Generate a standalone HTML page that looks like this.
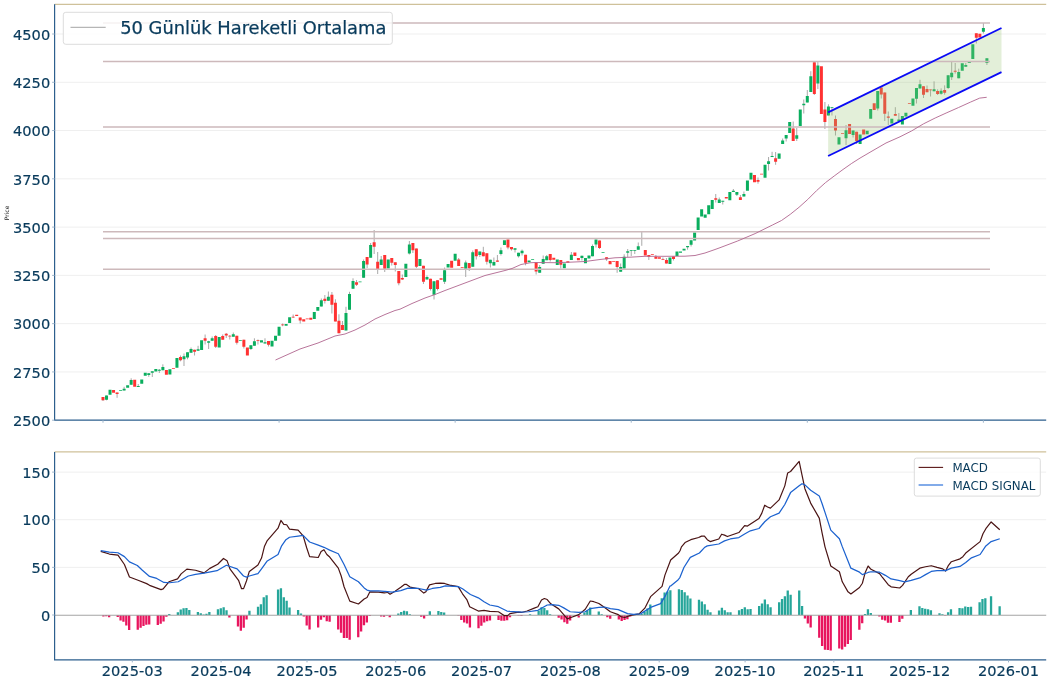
<!DOCTYPE html>
<html lang="tr"><head><meta charset="utf-8"><title>Chart</title><style>html,body{margin:0;padding:0;background:#fff}svg{display:block}</style></head><body>
<svg width="1050" height="683" viewBox="0 0 1050 683" font-family="'DejaVu Sans', 'Liberation Sans', sans-serif">
<rect width="1050" height="683" fill="#fff"/>
<g stroke="#efefef" stroke-width="1">
<line x1="54.6" x2="1046.2" y1="371.93" y2="371.93"/>
<line x1="54.6" x2="1046.2" y1="323.65" y2="323.65"/>
<line x1="54.6" x2="1046.2" y1="275.38" y2="275.38"/>
<line x1="54.6" x2="1046.2" y1="227.1" y2="227.1"/>
<line x1="54.6" x2="1046.2" y1="178.82" y2="178.82"/>
<line x1="54.6" x2="1046.2" y1="130.55" y2="130.55"/>
<line x1="54.6" x2="1046.2" y1="82.28" y2="82.28"/>
<line x1="54.6" x2="1046.2" y1="34" y2="34"/>
<line x1="54.6" x2="1046.2" y1="567.37" y2="567.37"/>
<line x1="54.6" x2="1046.2" y1="519.73" y2="519.73"/>
<line x1="54.6" x2="1046.2" y1="472.1" y2="472.1"/>
</g>
<path d="M103 397V401M106.52 395.5V400.3M117.09 392.4V397.8M124.13 386.8V390.5M131.17 378.3V384.7M138.22 384V387M148.78 373.3V376.8M152.3 371.3V377M159.34 369V373M162.87 364.3V370.3M180.47 355.5V361.3M183.99 353.5V366M187.52 352.3V359.3M191.04 347.5V352.8M194.56 349.7V355.5M198.08 345.8V350.8M205.12 334.5V344.5M208.64 340.8V349M212.17 336.5V340.8M215.69 335V348M222.73 334.5V339.7M226.25 333V338M229.77 335V339.5M233.3 332.5V336.7M236.82 335.8V344.5M243.86 339.7V348.5M250.9 345.2V350M254.42 338.3V345.8M257.95 339.5V344.5M264.99 338.3V343.5M268.51 341V346.5M282.6 323.5V326.2M293.16 314.5V317.8M300.2 317.5V323.5M321.33 298.5V306.5M324.85 295V303.5M328.38 291.5V300.8M331.9 292V313.5M335.42 299.3V321.5M338.94 314.3V333.3M342.46 321V330M345.98 306.8V330.5M349.5 291.8V309.7M353.03 278.3V288.7M356.55 280V286M363.59 259.5V277.8M367.11 257V268M370.63 243V257.7M374.16 230V254M377.68 252V274M381.2 256V265M384.72 255V272M391.76 258V265.5M395.28 262.3V271.5M398.81 271V285.3M402.33 274.5V280M409.37 241V254.5M412.89 243V253M416.41 248.5V268M423.46 265.8V284M426.98 275.5V279.5M430.5 278.7V290.5M434.02 281.2V299.5M437.54 280.2V290.5M444.59 267.5V284M458.67 258V266M465.71 260.5V277M469.24 263V271M472.76 250.5V266.7M476.28 249.3V259.5M479.8 251.5V257M483.32 246.8V256.3M486.84 253.3V264.5M490.37 259.7V267.5M493.89 257.5V265.5M497.41 255V261.8M500.93 247.5V255.5M507.97 239.5V249.3M511.49 247V250.5M515.02 248.3V252.5M518.54 252.8V257.5M522.06 249.5V255.5M525.58 254.8V265.3M536.14 262.5V274.5M539.67 265V272.8M543.19 255.5V263.8M546.71 255V260.2M550.23 254V261.5M560.8 260V268.5M571.36 252V260M581.92 255.7V260.5M592.49 244.5V256.3M596.01 239.5V247.5M599.53 240.5V249M606.57 257.2V260.8M617.14 261V272.8M620.66 263.5V271.7M624.18 254.3V268.5M627.7 249V257M631.23 250V256M634.75 250V254M638.27 242.5V249.8M641.79 231.3V245.8M648.83 255V260M655.88 255V258.7M662.92 257.5V259.8M666.44 258V263.5M673.48 256.5V260.5M687.57 246V249.7M691.09 240.3V246.5M715.74 194V202.5M719.26 197.5V203M722.78 200.8V204.5M733.35 189V192M736.87 192V196M740.39 195V200M743.91 191.5V196.5M758 177.5V183.7M768.56 157V170.5M772.09 151.8V157M775.61 152V164.8M782.65 138.5V144M786.17 135V141.5M793.21 121.5V141M796.74 128V141M803.78 99.5V113.5M807.3 90V102.5M810.82 71.2V92M814.34 62.2V95M817.86 62V89M824.91 102V129M828.43 104.3V115.5M831.95 107.2V115.5M835.47 115.5V135.5M846.04 125V145M853.08 130.5V137.5M856.6 131.8V144M877.73 91V110.5M881.25 87.5V98.5M884.77 92.5V121M888.29 111.5V125M895.34 107.2V115.8M898.86 113V121M916.47 88V103.5M919.99 79.8V88.5M923.51 86.2V98M927.03 85.5V92.2M930.55 89.5V96.5M934.07 81.33V91.33M937.6 89.33V95M941.12 88.33V94.67M944.64 85.33V94.67M948.16 75.2V89M951.68 61.67V80M955.2 63V73.67M958.72 68.67V78.33M965.77 63V66.67M976.33 33.3V43.5M983.38 23V33.5M986.9 58.3V65" stroke="#999999" stroke-width="0.85" fill="none"/>
<path d="M105.02 395.5h3v4.3h-3zM108.54 389.8h3v5h-3zM119.11 390.3h3v0.7h-3zM122.63 388.7h3v1.8h-3zM126.15 385.2h3v2.6h-3zM129.67 380h3v4.7h-3zM136.72 386h3v1h-3zM140.24 379.5h3v4.3h-3zM143.76 372.8h3v3h-3zM147.28 373.3h3v1.7h-3zM150.8 371.3h3v1.5h-3zM154.32 369h3v2.5h-3zM157.84 369.7h3v1h-3zM161.37 367h3v3.3h-3zM168.41 369.2h3v5.3h-3zM175.45 358h3v9.8h-3zM182.49 356.3h3v2.9h-3zM186.02 352.3h3v5.2h-3zM189.54 349h3v3.8h-3zM196.58 349.3h3v1.5h-3zM200.1 340.3h3v9.7h-3zM207.14 341.3h3v1.5h-3zM210.67 338.3h3v2.5h-3zM217.71 337h3v10.5h-3zM231.8 334.3h3v2.4h-3zM238.84 340h3v0.8h-3zM249.4 345.2h3v3.8h-3zM252.92 341.3h3v4.5h-3zM259.97 340.3h3v2.2h-3zM263.49 342.3h3v1.2h-3zM270.53 340.8h3v5.7h-3zM274.05 335.7h3v5.1h-3zM277.58 326.7h3v9.1h-3zM284.62 324h3v1.8h-3zM288.14 317.2h3v5.8h-3zM312.79 312h3v7h-3zM316.31 307h3v3.8h-3zM319.83 300.3h3v6.2h-3zM326.88 296.8h3v4h-3zM344.48 313h3v17.5h-3zM348 294h3v15.7h-3zM351.53 281h3v7.7h-3zM358.57 281.5h3v0.7h-3zM362.09 261h3v16.8h-3zM369.13 245h3v12.7h-3zM379.7 259.5h3v5.5h-3zM386.74 259.5h3v9h-3zM404.35 263.7h3v13.3h-3zM407.87 244.5h3v9h-3zM418.44 259h3v7h-3zM425.48 277h3v2.5h-3zM432.52 281.2h3v13.5h-3zM443.09 270.2h3v11.6h-3zM446.61 264h3v3.5h-3zM453.65 253.7h3v7h-3zM464.21 262.5h3v6.2h-3zM471.26 252.2h3v14.5h-3zM478.3 251.5h3v3.5h-3zM488.87 259.7h3v3.5h-3zM492.39 262h3v3.5h-3zM499.43 250.2h3v3.8h-3zM502.95 240.2h3v4.8h-3zM513.52 248.3h3v1.4h-3zM517.04 252.8h3v3.5h-3zM520.56 250.8h3v2.5h-3zM527.6 260.5h3v1.7h-3zM531.12 259.3h3v0.7h-3zM538.17 267h3v5.8h-3zM541.69 259h3v4.8h-3zM545.21 256.3h3v3.9h-3zM555.77 259.5h3v5.5h-3zM562.82 263.5h3v4.7h-3zM569.86 254.8h3v5.2h-3zM580.42 255.7h3v2.3h-3zM583.95 258h3v5.2h-3zM587.47 255.5h3v3h-3zM590.99 246h3v10.3h-3zM594.51 239.5h3v5h-3zM601.55 252h3v0.8h-3zM619.16 267h3v4.7h-3zM622.68 256.8h3v11.7h-3zM626.2 251.2h3v1.6h-3zM629.73 250h3v0.7h-3zM633.25 250h3v0.7h-3zM636.77 246.2h3v3.6h-3zM668.46 257.5h3v6.5h-3zM675.5 251.5h3v4.5h-3zM679.03 251.5h3v1.2h-3zM682.55 248.7h3v1.8h-3zM686.07 246h3v1.2h-3zM689.59 240.3h3v4.5h-3zM693.11 232.5h3v8h-3zM696.63 217.5h3v12.5h-3zM700.15 209.2h3v7.3h-3zM703.68 214.5h3v3.3h-3zM707.2 205.2h3v9.1h-3zM710.72 200h3v9h-3zM717.76 199.5h3v3.5h-3zM721.28 200.8h3v1h-3zM728.33 192h3v8.3h-3zM731.85 190.8h3v1.2h-3zM735.37 192h3v2.7h-3zM742.41 194h3v2.5h-3zM745.93 180.5h3v10.2h-3zM749.46 172.8h3v6.7h-3zM763.54 164.8h3v13h-3zM767.06 161.3h3v2.7h-3zM770.59 156h3v1h-3zM777.63 153.5h3v5.2h-3zM781.15 140.5h3v3.5h-3zM784.67 135h3v3.5h-3zM788.19 122h3v11h-3zM795.24 135.3h3v3.4h-3zM798.76 109.5h3v16.5h-3zM802.28 103.8h3v1.5h-3zM805.8 96h3v6.5h-3zM809.32 76.2h3v15.8h-3zM816.36 65.5h3v18h-3zM826.93 106.5h3v9h-3zM830.45 107.2h3v0.8h-3zM837.49 137.2h3v7.3h-3zM844.54 130.2h3v8h-3zM851.58 130.5h3v4.5h-3zM858.62 134.5h3v9.5h-3zM865.67 130.8h3v3.4h-3zM869.19 109h3v9.8h-3zM876.23 91h3v17.5h-3zM890.32 118.7h3v4.8h-3zM897.36 119.5h3v1.5h-3zM900.88 116h3v8.5h-3zM904.4 112.8h3v3.7h-3zM911.45 98.5h3v7.3h-3zM914.97 88h3v10.8h-3zM918.49 84.2h3v4.3h-3zM932.57 89.33h3v2h-3zM939.62 90.67h3v3h-3zM946.66 75.2h3v12.8h-3zM950.18 72.67h3v4.67h-3zM957.22 72h3v6.33h-3zM960.75 63.33h3v7.33h-3zM964.27 65h3v1.67h-3zM967.79 62h3v1h-3zM971.31 44.3h3v14.7h-3zM981.88 28h3v3.8h-3zM985.4 58.3h3v4.7h-3z" fill="#0aae5e"/>
<path d="M101.5 397h3v3.3h-3zM112.06 390h3v2.7h-3zM115.59 392.4h3v1.6h-3zM133.19 379.8h3v7h-3zM164.89 370h3v4.7h-3zM171.93 368.3h3v0.7h-3zM178.97 357h3v3.3h-3zM193.06 349.7h3v2.1h-3zM203.62 338.3h3v2.5h-3zM214.19 336h3v10.8h-3zM221.23 336h3v3.7h-3zM224.75 333.7h3v1.8h-3zM228.27 335.7h3v0.7h-3zM235.32 335.8h3v6.9h-3zM242.36 339.7h3v7.1h-3zM245.88 347.5h3v8h-3zM256.45 340h3v0.8h-3zM267.01 341h3v3.8h-3zM281.1 324.5h3v0.7h-3zM291.66 316.8h3v0.7h-3zM295.18 314.8h3v1.2h-3zM298.7 317.5h3v3h-3zM302.23 319.3h3v2.2h-3zM305.75 318.5h3v0.8h-3zM309.27 317.7h3v2h-3zM323.35 298.8h3v2.2h-3zM330.4 294.8h3v10h-3zM333.92 302.8h3v18.7h-3zM337.44 320.8h3v12.5h-3zM340.96 325h3v5h-3zM355.05 282.2h3v2.5h-3zM365.61 257h3v7.5h-3zM372.66 242.2h3v4.5h-3zM376.18 261.8h3v7.2h-3zM383.22 255h3v13.7h-3zM390.26 258h3v4.7h-3zM393.78 262.3h3v2.7h-3zM397.31 271h3v12.3h-3zM400.83 278h3v1.5h-3zM411.39 243h3v7.3h-3zM414.91 248.5h3v18.3h-3zM421.96 265.8h3v15.9h-3zM429 278.7h3v10.3h-3zM436.04 280.2h3v8.8h-3zM439.56 278.3h3v1.5h-3zM450.13 260.7h3v7h-3zM457.17 259.5h3v6.5h-3zM460.69 267h3v0.7h-3zM467.74 263h3v5.2h-3zM474.78 249.3h3v7h-3zM481.82 252.2h3v4.1h-3zM485.34 253.3h3v8.4h-3zM495.91 260.5h3v1.3h-3zM506.47 239.5h3v8h-3zM509.99 247h3v2.3h-3zM524.08 254.8h3v7.9h-3zM534.64 262.5h3v9h-3zM548.73 254h3v6h-3zM552.25 257.8h3v1.9h-3zM559.3 260h3v4.7h-3zM566.34 261.2h3v1.6h-3zM573.38 252.5h3v3.5h-3zM576.9 258h3v2.2h-3zM598.03 240.5h3v7.5h-3zM605.07 257.2h3v2.1h-3zM608.6 261h3v3.2h-3zM612.12 261h3v0.7h-3zM615.64 261h3v6h-3zM643.81 250h3v5.5h-3zM647.33 255h3v1.7h-3zM650.85 254.3h3v0.7h-3zM654.38 256.8h3v1.9h-3zM657.9 257.2h3v1.5h-3zM661.42 259.2h3v0.7h-3zM664.94 260h3v3.5h-3zM671.98 256.5h3v2.5h-3zM714.24 198.3h3v1.5h-3zM724.81 197h3v1.5h-3zM738.89 197.2h3v2.8h-3zM752.98 175h3v7.3h-3zM756.5 180h3v1.7h-3zM760.02 173.8h3v0.7h-3zM774.11 158.3h3v3.4h-3zM791.71 128.5h3v12.5h-3zM812.84 62.2h3v31.8h-3zM819.89 66.2h3v47.8h-3zM823.41 109.5h3v12.5h-3zM833.97 119h3v11.5h-3zM841.01 133.3h3v0.7h-3zM848.06 124h3v10h-3zM855.1 131.8h3v9.2h-3zM862.14 129.5h3v5h-3zM872.71 103.3h3v6.7h-3zM879.75 87.5h3v7h-3zM883.27 92.5h3v21.3h-3zM886.79 116.5h3v1.2h-3zM893.84 114h3v1.8h-3zM907.92 103.3h3v0.7h-3zM922.01 86.2h3v8.6h-3zM925.53 89h3v3.2h-3zM929.05 89.5h3v0.7h-3zM936.1 91h3v3h-3zM943.14 90h3v2.67h-3zM953.7 70.87h3v0.8h-3zM974.83 33.3h3v4.5h-3zM978.35 33.7h3v3.8h-3z" fill="#ff3232"/>
<polygon points="828.1,112.4 1001.5,28 1001.5,72.1 828.1,156" fill="rgba(150,195,115,0.27)"/>
<g stroke="#cdb9bb" stroke-width="1.5">
<line x1="103" x2="990" y1="23.0" y2="23.0"/>
<line x1="103" x2="990" y1="61.4" y2="61.4"/>
<line x1="103" x2="990" y1="127.0" y2="127.0"/>
<line x1="103" x2="990" y1="231.7" y2="231.7"/>
<line x1="103" x2="990" y1="238.6" y2="238.6"/>
<line x1="103" x2="990" y1="269.3" y2="269.3"/>
</g>
<g stroke="#0a0af5" stroke-width="1.8" stroke-linecap="butt">
<line x1="828.1" y1="112.4" x2="1001.5" y2="28"/>
<line x1="828.1" y1="156" x2="1001.5" y2="72.1"/>
</g>
<polyline points="275.5,360 300,349 318,343 335,336 345,334 355,330 365,325 375,319 385,314.5 395,310.5 400,309.2 412,303.5 425,298 435,294.5 445,290.5 465,283 485,275.5 505,270.5 512,268.5 521,264.5 530,262.8 535,262.5 555,262.7 570,262.2 585,261.5 600,259.5 615,257.8 630,257.2 645,256.3 665,256.3 685,256.2 695,255.5 705,253 715,249.5 720,247.7 737.6,241 755.1,233.6 772.7,224.9 781.5,220.5 790.3,214.3 799,207.3 807.8,199.4 816.6,190.6 825.4,182.7 834.2,176 843,169.5 851.7,163.4 860,158.1 873,150.5 886,143 900,136.8 911.7,130.9 923.4,123.9 935.2,118 946.9,112.7 958.6,107.5 970.3,102.2 979.7,98.1 986.7,97.3" fill="none" stroke="#b0658f" stroke-width="0.9" stroke-linejoin="round"/>
<path d="M168.11 614h2.3V615h-2.3zM176.7 612.2h2.3V615h-2.3zM179.56 609.5h2.3V615h-2.3zM182.43 608.3h2.3V615h-2.3zM185.29 608h2.3V615h-2.3zM188.15 610h2.3V615h-2.3zM196.74 612h2.3V615h-2.3zM199.61 613.2h2.3V615h-2.3zM202.47 614.5h2.3V615h-2.3zM205.33 613.8h2.3V615h-2.3zM208.2 612h2.3V615h-2.3zM216.79 609.2h2.3V615h-2.3zM219.65 608.3h2.3V615h-2.3zM222.51 607.2h2.3V615h-2.3zM225.38 610.2h2.3V615h-2.3zM248.28 610.8h2.3V615h-2.3zM256.87 606.8h2.3V615h-2.3zM259.74 604.2h2.3V615h-2.3zM262.6 597.2h2.3V615h-2.3zM265.46 595.2h2.3V615h-2.3zM276.92 589.5h2.3V615h-2.3zM279.78 588.2h2.3V615h-2.3zM282.64 597.2h2.3V615h-2.3zM285.51 600.8h2.3V615h-2.3zM288.37 607.5h2.3V615h-2.3zM296.96 610h2.3V615h-2.3zM299.82 613.5h2.3V615h-2.3zM397.18 613.5h2.3V615h-2.3zM400.04 612h2.3V615h-2.3zM402.91 610.8h2.3V615h-2.3zM405.77 611.2h2.3V615h-2.3zM408.63 614.3h2.3V615h-2.3zM428.68 611.2h2.3V615h-2.3zM437.27 611h2.3V615h-2.3zM440.13 612h2.3V615h-2.3zM442.99 612.5h2.3V615h-2.3zM528.9 614.3h2.3V615h-2.3zM537.49 610.5h2.3V615h-2.3zM540.35 607.2h2.3V615h-2.3zM543.21 608h2.3V615h-2.3zM546.08 610.2h2.3V615h-2.3zM548.94 614.2h2.3V615h-2.3zM583.3 612.5h2.3V615h-2.3zM586.16 610.5h2.3V615h-2.3zM589.03 607.5h2.3V615h-2.3zM597.62 611.5h2.3V615h-2.3zM600.48 614.2h2.3V615h-2.3zM637.71 614.6h2.3V615h-2.3zM640.57 614h2.3V615h-2.3zM643.43 611.8h2.3V615h-2.3zM646.3 608.5h2.3V615h-2.3zM649.16 604.5h2.3V615h-2.3zM660.61 598.3h2.3V615h-2.3zM663.48 592.5h2.3V615h-2.3zM666.34 591.5h2.3V615h-2.3zM669.2 590.3h2.3V615h-2.3zM677.79 589.2h2.3V615h-2.3zM680.66 590h2.3V615h-2.3zM683.52 592.2h2.3V615h-2.3zM686.38 595.5h2.3V615h-2.3zM689.25 598.5h2.3V615h-2.3zM697.84 599.7h2.3V615h-2.3zM700.7 601.5h2.3V615h-2.3zM703.56 604.3h2.3V615h-2.3zM706.43 609.7h2.3V615h-2.3zM709.29 612.2h2.3V615h-2.3zM717.88 610.5h2.3V615h-2.3zM720.74 607.8h2.3V615h-2.3zM723.61 610.3h2.3V615h-2.3zM726.47 612.3h2.3V615h-2.3zM729.33 612.2h2.3V615h-2.3zM737.92 610.3h2.3V615h-2.3zM740.79 609h2.3V615h-2.3zM743.65 607.3h2.3V615h-2.3zM746.51 609.3h2.3V615h-2.3zM749.38 609h2.3V615h-2.3zM757.97 606h2.3V615h-2.3zM760.83 603.5h2.3V615h-2.3zM763.7 599.5h2.3V615h-2.3zM766.56 604.3h2.3V615h-2.3zM769.42 607.3h2.3V615h-2.3zM778.01 602.2h2.3V615h-2.3zM780.88 599h2.3V615h-2.3zM783.74 596.3h2.3V615h-2.3zM786.6 590.5h2.3V615h-2.3zM789.47 594.7h2.3V615h-2.3zM798.06 590.5h2.3V615h-2.3zM800.92 606h2.3V615h-2.3zM863.91 614h2.3V615h-2.3zM866.78 609.3h2.3V615h-2.3zM869.64 613h2.3V615h-2.3zM909.73 610h2.3V615h-2.3zM918.32 606.2h2.3V615h-2.3zM921.18 608h2.3V615h-2.3zM924.05 608.7h2.3V615h-2.3zM926.91 609.2h2.3V615h-2.3zM929.77 610.2h2.3V615h-2.3zM938.36 613.2h2.3V615h-2.3zM941.23 614.3h2.3V615h-2.3zM946.95 612.2h2.3V615h-2.3zM949.82 609.3h2.3V615h-2.3zM958.41 608h2.3V615h-2.3zM961.27 608.2h2.3V615h-2.3zM964.13 606.5h2.3V615h-2.3zM967 607h2.3V615h-2.3zM969.86 606.8h2.3V615h-2.3zM978.45 602.3h2.3V615h-2.3zM981.31 599h2.3V615h-2.3zM984.18 598.3h2.3V615h-2.3zM989.9 596.2h2.3V615h-2.3zM998.49 606.2h2.3V615h-2.3z" fill="#26a69a"/>
<path d="M102.25 615h2.3V616.5h-2.3zM105.11 615h2.3V616.2h-2.3zM107.98 615h2.3V617.2h-2.3zM116.57 615h2.3V617h-2.3zM119.43 615h2.3V620.5h-2.3zM122.29 615h2.3V621.8h-2.3zM125.16 615h2.3V625.5h-2.3zM128.02 615h2.3V630h-2.3zM136.61 615h2.3V629.7h-2.3zM139.47 615h2.3V627.8h-2.3zM142.34 615h2.3V626h-2.3zM145.2 615h2.3V624.8h-2.3zM148.06 615h2.3V624.5h-2.3zM156.65 615h2.3V625h-2.3zM159.52 615h2.3V623.7h-2.3zM162.38 615h2.3V621.5h-2.3zM165.24 615h2.3V616.8h-2.3zM228.24 615h2.3V617.5h-2.3zM236.83 615h2.3V626.5h-2.3zM239.69 615h2.3V630.7h-2.3zM242.56 615h2.3V627.7h-2.3zM245.42 615h2.3V619.5h-2.3zM302.69 615h2.3V616.5h-2.3zM305.55 615h2.3V625.5h-2.3zM308.41 615h2.3V629.5h-2.3zM317 615h2.3V627.5h-2.3zM319.87 615h2.3V619.7h-2.3zM322.73 615h2.3V617.3h-2.3zM325.6 615h2.3V621.3h-2.3zM328.46 615h2.3V621.8h-2.3zM337.05 615h2.3V629.5h-2.3zM339.91 615h2.3V632.7h-2.3zM342.78 615h2.3V638h-2.3zM345.64 615h2.3V638h-2.3zM348.5 615h2.3V639.7h-2.3zM357.09 615h2.3V637.2h-2.3zM359.96 615h2.3V631.5h-2.3zM362.82 615h2.3V625.3h-2.3zM365.68 615h2.3V622.5h-2.3zM368.55 615h2.3V616h-2.3zM380 615h2.3V616.5h-2.3zM382.86 615h2.3V616.7h-2.3zM385.73 615h2.3V615.6h-2.3zM388.59 615h2.3V617.2h-2.3zM420.09 615h2.3V616.7h-2.3zM422.95 615h2.3V618.5h-2.3zM425.81 615h2.3V615.5h-2.3zM457.31 615h2.3V615.5h-2.3zM460.18 615h2.3V620h-2.3zM463.04 615h2.3V622.5h-2.3zM465.9 615h2.3V623.5h-2.3zM468.77 615h2.3V627.5h-2.3zM477.36 615h2.3V628.3h-2.3zM480.22 615h2.3V625.7h-2.3zM483.08 615h2.3V622.5h-2.3zM485.95 615h2.3V621.3h-2.3zM488.81 615h2.3V620.5h-2.3zM497.4 615h2.3V620h-2.3zM500.26 615h2.3V620.8h-2.3zM503.13 615h2.3V620.8h-2.3zM505.99 615h2.3V620.2h-2.3zM508.85 615h2.3V617.2h-2.3zM517.44 615h2.3V615.5h-2.3zM520.31 615h2.3V616h-2.3zM557.53 615h2.3V617.8h-2.3zM560.39 615h2.3V619.5h-2.3zM563.26 615h2.3V622.2h-2.3zM566.12 615h2.3V623.7h-2.3zM568.98 615h2.3V620.5h-2.3zM577.57 615h2.3V617.5h-2.3zM606.21 615h2.3V617.3h-2.3zM609.07 615h2.3V618.7h-2.3zM617.66 615h2.3V619.5h-2.3zM620.53 615h2.3V621h-2.3zM623.39 615h2.3V620h-2.3zM626.25 615h2.3V619.2h-2.3zM629.12 615h2.3V616.5h-2.3zM803.78 615h2.3V618.5h-2.3zM806.65 615h2.3V623.5h-2.3zM809.51 615h2.3V627.5h-2.3zM818.1 615h2.3V637.7h-2.3zM820.96 615h2.3V646h-2.3zM823.83 615h2.3V649.7h-2.3zM826.69 615h2.3V650h-2.3zM829.55 615h2.3V650.5h-2.3zM838.14 615h2.3V648.5h-2.3zM841.01 615h2.3V649.5h-2.3zM843.87 615h2.3V646.7h-2.3zM846.73 615h2.3V644h-2.3zM849.6 615h2.3V640h-2.3zM858.19 615h2.3V629.8h-2.3zM861.05 615h2.3V623.3h-2.3zM878.23 615h2.3V616.5h-2.3zM881.09 615h2.3V619.7h-2.3zM883.96 615h2.3V620.5h-2.3zM886.82 615h2.3V622.8h-2.3zM889.68 615h2.3V622.8h-2.3zM898.28 615h2.3V622h-2.3zM901.14 615h2.3V618.7h-2.3zM944.09 615h2.3V615.5h-2.3z" fill="#e8155e"/>
<line x1="54.6" x2="1046.2" y1="615.2" y2="615.2" stroke="#a4a4a4" stroke-width="1.1"/>
<polyline points="100.74,551.32 109.35,554.04 117.97,555.19 124.43,564.52 129.45,577.01 138.06,580.31 146.67,583.61 149.55,585.33 161.03,589.64 163.18,588.92 168.92,581.75 177.54,578.88 181.12,573.85 186.87,569.11 195.48,570.26 204.09,572.85 209.83,568.4 217.73,564.23 223.47,558.49 227.06,560.65 229.93,568.83 238.54,580.31 241.41,588.21 241.44,588.64 243.59,588.64 246.46,581.03 249.33,571.41 257.94,564.95 261.53,558.06 264.4,546.58 267.27,540.55 278.04,528.21 280.91,520.45 283.78,524.33 286.65,524.76 289.52,529.07 298.13,530.07 303.16,535.81 306.75,548.01 309.62,556.63 318.23,557.49 321.1,551.6 323.97,549.74 326.84,554.47 329.71,557.06 338.33,568.11 341.2,576 344.07,586.77 349.81,601.12 358.42,604 364.16,598.97 367.03,597.54 369.9,591.79 378.52,592.08 384.26,592.94 387.13,592.51 387.15,592.08 390.02,594.23 395.05,591.22 400.79,587.34 404.38,584.47 406.53,584.47 410.12,587.06 418.73,588.78 423.76,593.09 425.91,591.65 429.5,584.9 435.24,583.47 440.26,583.04 444.57,583.47 449.59,585.19 458.21,586.63 462.51,593.8 466.82,599.55 469.69,606.72 478.3,611.03 484.04,610.31 489.78,611.32 498.4,611.75 504.14,615.62 507.73,615.62 509.88,613.61 518.49,612.18 521.36,612.46 527.11,611.03 534.28,608.16 537.89,606.72 541.48,599.98 544.35,598.54 547.22,599.55 550.81,603.85 558.71,608.88 563.73,614.62 567.32,618.92 570.91,617.49 578.8,614.62 585.26,609.31 590.29,600.98 593.88,601.7 598.9,603.56 604.64,607.44 610.38,611.75 618.28,614.62 621.15,616.77 624.74,617.49 630.48,615.33 639.09,613.9 644.83,608.16 650.57,596.67 662.06,586.34 664.93,575.14 670.67,560.07 678.59,553.04 680,550.74 681.46,546.87 685.05,542.56 690.79,539.69 698.68,537.54 701.56,536.1 704.43,536.1 707.3,539.69 710.17,541.56 718.78,538.97 721.65,534.23 724.52,535.1 727.39,536.53 738.88,532.51 744.62,525.62 747.49,526.05 758.97,518.59 761.84,513.13 764.71,505.24 767.58,506.96 770.45,508.11 779.07,499.93 784.81,485.86 787.68,472.94 790.55,471.51 799.16,461.46 802.03,475.1 804.9,488.73 810.65,503.09 819.26,518.16 822.13,533.23 825,546.87 830.79,566 839.4,571.75 842.27,581.79 848.01,591.84 850.89,594 859.5,587.54 862.37,583.23 865.24,572.46 868.11,566 870.98,569.31 879.59,573.61 882.46,577.49 888.21,584.67 891.08,586.82 899.69,587.97 902.56,585.38 908.3,576.77 911.17,574.19 919.78,568.16 925.53,566.72 931.27,565.72 937.01,567.44 942.75,568.88 945.62,571.03 948.49,565.29 951.36,561.7 959.98,558.83 962.87,556.67 965.74,553.09 980.1,541.6 982.97,533.71 985.84,528.68 991.15,521.94 999.76,529.69" fill="none" stroke="#4a1414" stroke-width="1.2" stroke-linejoin="round"/>
<polyline points="100.74,550.6 109.35,552.03 117.97,552.75 124.43,556.63 129.45,561.94 137.34,565.53 142.37,570.26 149.55,576.44 156.72,578.44 163.9,582.46 169.64,582.75 178.25,581.75 188.3,576 195.48,574.28 204.09,573.13 217.01,570.69 226.34,565.24 237.11,568.83 242.85,575.29 243.59,576 246.46,577.15 249.33,576 257.94,573.56 261.53,568.83 267.27,560.93 278.04,554.47 281.63,545.86 285.93,539.69 289.52,537.25 298.13,536.1 303.16,535.38 309.62,541.99 318.23,545.14 323.97,547.3 329.71,550.17 338.33,553.76 344.07,564.52 349.81,576.72 358.42,581.75 364.16,587.92 367.03,590.07 369.9,590.79 378.52,590.79 384.26,591.36 385,591.36 392.18,592.08 400.79,590.65 407.97,588.06 418.73,588.49 426.63,590.22 432.37,588.49 440.26,587.34 445.29,585.91 458.21,586.63 462.51,588.78 470.41,594.52 478.3,597.82 484.04,601.7 489.78,605 498.4,606.72 507.01,611.03 509.88,611.46 521.36,612.03 528.54,611.75 534.28,610.89 537.89,610.31 547.22,605 551.53,604.57 558.71,605.29 563.73,607.87 570.19,611.75 578.8,612.46 585.26,611.75 590.29,608.59 598.9,607.44 604.64,607.01 610.38,608.59 618.28,609.59 627.61,613.61 633.35,614.33 640.53,613.9 650.57,607.44 660.62,603.56 664.93,596.67 670,586 670.67,585.91 678,580 680,577.3 683.9,567.5 690.3,557.4 699.4,553.04 704.43,547.58 707.3,545.86 718.78,544 724.52,540.84 730.26,538.97 738.88,537.54 744.62,533.95 750.36,530.79 758.97,528.49 764.71,521.75 770.45,516.72 779.07,513.13 784.81,504.52 790.55,492.61 799.16,485.86 802.03,483.71 804.9,484.86 810.65,490.17 819.26,495.91 822.13,503.8 825,512.42 830.79,530.12 839.4,538.73 842.27,546.63 850.89,568.16 859.5,572.18 862.37,574.62 868.11,572.46 870.98,571.75 879.59,572.18 885.33,575.33 891.08,578.92 899.69,580.65 904.71,581.79 911.17,580.36 919.78,577.92 925.53,574.62 931.27,571.46 937.01,570.74 945.62,570.6 951.36,568.16 959.98,566.44 965.74,562.42 971.48,557.82 980.1,554.52 985.84,545.91 991.15,541.6 999.76,538.73" fill="none" stroke="#1c62cf" stroke-width="1.25" stroke-linejoin="round"/>
<g stroke-width="1.2" fill="none">
<line x1="54.6" x2="1046.2" y1="4.3" y2="4.3" stroke="#cfc19a"/>
<line x1="54.6" x2="1046.2" y1="451.9" y2="451.9" stroke="#cfc19a"/>
<path d="M54.6 4.3V420.2H1046.2" stroke="#2d5f8d"/>
<path d="M54.6 451.9V659.9H1046.2" stroke="#2d5f8d"/>
</g>
<g stroke="#9fb6cc" stroke-width="1">
<line x1="52.1" x2="54.6" y1="420.2" y2="420.2"/>
<line x1="52.1" x2="54.6" y1="371.93" y2="371.93"/>
<line x1="52.1" x2="54.6" y1="323.65" y2="323.65"/>
<line x1="52.1" x2="54.6" y1="275.38" y2="275.38"/>
<line x1="52.1" x2="54.6" y1="227.1" y2="227.1"/>
<line x1="52.1" x2="54.6" y1="178.82" y2="178.82"/>
<line x1="52.1" x2="54.6" y1="130.55" y2="130.55"/>
<line x1="52.1" x2="54.6" y1="82.28" y2="82.28"/>
<line x1="52.1" x2="54.6" y1="34" y2="34"/>
<line x1="52.1" x2="54.6" y1="615" y2="615"/>
<line x1="52.1" x2="54.6" y1="567.37" y2="567.37"/>
<line x1="52.1" x2="54.6" y1="519.73" y2="519.73"/>
<line x1="52.1" x2="54.6" y1="472.1" y2="472.1"/>
<line x1="103" x2="103" y1="420.2" y2="422.7"/>
<line x1="279.08" x2="279.08" y1="420.2" y2="422.7"/>
<line x1="455.15" x2="455.15" y1="420.2" y2="422.7"/>
<line x1="631.23" x2="631.23" y1="420.2" y2="422.7"/>
<line x1="807.3" x2="807.3" y1="420.2" y2="422.7"/>
<line x1="983.38" x2="983.38" y1="420.2" y2="422.7"/>
<line x1="132.3" x2="132.3" y1="659.9" y2="662.4"/>
<line x1="221.1" x2="221.1" y1="659.9" y2="662.4"/>
<line x1="307" x2="307" y1="659.9" y2="662.4"/>
<line x1="395.7" x2="395.7" y1="659.9" y2="662.4"/>
<line x1="481.6" x2="481.6" y1="659.9" y2="662.4"/>
<line x1="570.4" x2="570.4" y1="659.9" y2="662.4"/>
<line x1="659.2" x2="659.2" y1="659.9" y2="662.4"/>
<line x1="745.1" x2="745.1" y1="659.9" y2="662.4"/>
<line x1="833.8" x2="833.8" y1="659.9" y2="662.4"/>
<line x1="919.7" x2="919.7" y1="659.9" y2="662.4"/>
<line x1="1008.5" x2="1008.5" y1="659.9" y2="662.4"/>
</g>
<g fill="#083a5b" stroke="#083a5b" stroke-width="0.2" font-size="14.6">
<text x="50.2" y="425.9" text-anchor="end">2500</text>
<text x="50.2" y="377.62" text-anchor="end">2750</text>
<text x="50.2" y="329.35" text-anchor="end">3000</text>
<text x="50.2" y="281.07" text-anchor="end">3250</text>
<text x="50.2" y="232.8" text-anchor="end">3500</text>
<text x="50.2" y="184.52" text-anchor="end">3750</text>
<text x="50.2" y="136.25" text-anchor="end">4000</text>
<text x="50.2" y="87.98" text-anchor="end">4250</text>
<text x="50.2" y="39.7" text-anchor="end">4500</text>
<text x="50.2" y="620.7" text-anchor="end">0</text>
<text x="50.2" y="573.07" text-anchor="end">50</text>
<text x="50.2" y="525.43" text-anchor="end">100</text>
<text x="50.2" y="477.8" text-anchor="end">150</text>
<text x="132.3" y="675.8" text-anchor="middle">2025-03</text>
<text x="221.1" y="675.8" text-anchor="middle">2025-04</text>
<text x="307" y="675.8" text-anchor="middle">2025-05</text>
<text x="395.7" y="675.8" text-anchor="middle">2025-06</text>
<text x="481.6" y="675.8" text-anchor="middle">2025-07</text>
<text x="570.4" y="675.8" text-anchor="middle">2025-08</text>
<text x="659.2" y="675.8" text-anchor="middle">2025-09</text>
<text x="745.1" y="675.8" text-anchor="middle">2025-10</text>
<text x="833.8" y="675.8" text-anchor="middle">2025-11</text>
<text x="919.7" y="675.8" text-anchor="middle">2025-12</text>
<text x="1008.5" y="675.8" text-anchor="middle">2026-01</text>
</g>
<text transform="translate(9.4,213) rotate(-90)" text-anchor="middle" font-size="6" fill="#222">Price</text>
<rect x="63.3" y="12.3" width="329" height="32" rx="2.5" fill="rgba(255,255,255,0.8)" stroke="#dcdcdc" stroke-width="1"/>
<line x1="70.5" x2="105.7" y1="27.3" y2="27.3" stroke="#9a9a9a" stroke-width="0.9"/>
<text x="120.2" y="34" font-size="17.85" fill="#083a5b" stroke="#083a5b" stroke-width="0.25">50 Günlük Hareketli Ortalama</text>
<rect x="914.3" y="458.1" width="126" height="38" rx="2.2" fill="rgba(255,255,255,0.8)" stroke="#dcdcdc" stroke-width="1"/>
<line x1="918.6" x2="943.1" y1="467.4" y2="467.4" stroke="#5a1616" stroke-width="1.1"/>
<line x1="918.6" x2="943.1" y1="485" y2="485" stroke="#3f7ddd" stroke-width="1.3"/>
<text x="952.4" y="472.2" font-size="11.85" fill="#083a5b">MACD</text>
<text x="952.4" y="489.5" font-size="11.85" fill="#083a5b">MACD SIGNAL</text>
</svg>
</body></html>
